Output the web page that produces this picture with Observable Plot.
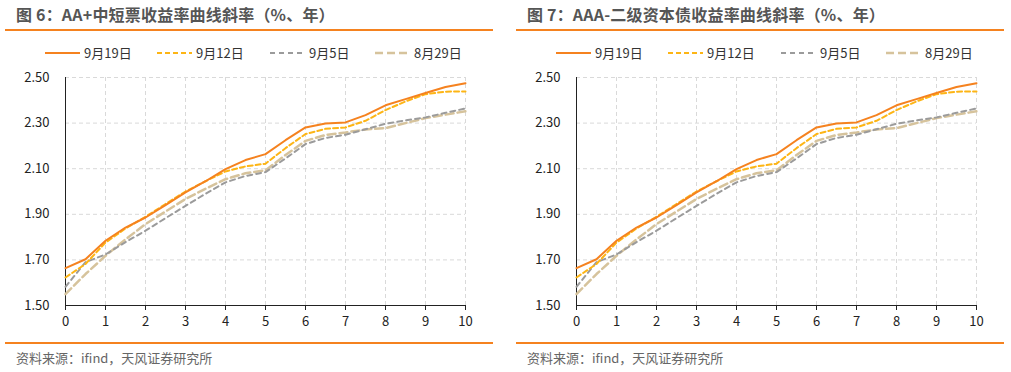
<!DOCTYPE html>
<html><head><meta charset="utf-8">
<script src="https://cdn.jsdelivr.net/npm/d3@7"></script>
<script src="https://cdn.jsdelivr.net/npm/@observablehq/plot@0.6"></script>
<style>
html,body{margin:0;padding:0;background:#fff;}
body{width:1011px;height:372px;position:relative;overflow:hidden;font-family:"Noto Sans CJK SC","Noto Sans",sans-serif;}
.panel{position:absolute;top:0;width:500px;height:372px;}
.title{position:absolute;left:16px;top:3px;font-size:16px;font-weight:bold;color:#555;line-height:22px;white-space:nowrap;letter-spacing:0.2px;}
.rule{position:absolute;left:5px;width:488px;height:2px;background:#F5821F;}
.legend{position:absolute;top:44px;left:0;width:500px;height:18px;font-size:13px;color:#333;}
.li{position:absolute;top:0;line-height:18px;white-space:nowrap;}
.li svg{position:absolute;left:0;top:0;}
.li span{position:absolute;left:39px;top:0;}
.plot{position:absolute;left:0;top:60px;}
.source{position:absolute;left:16px;top:349px;font-size:13px;color:#666;line-height:18px;white-space:nowrap;}
</style></head>
<body>
<script>
const xs = [0,0.5,1,1.5,2,2.5,3,3.5,4,4.5,5,5.5,6,6.5,7,7.5,8,8.5,9,9.5,10];
const s0919 = [1.664,1.703,1.784,1.842,1.886,1.940,1.996,2.045,2.098,2.138,2.164,2.225,2.281,2.298,2.303,2.335,2.378,2.405,2.432,2.458,2.475];
const s0912 = [1.623,1.682,1.776,1.838,1.889,1.945,2.000,2.045,2.088,2.110,2.122,2.190,2.252,2.275,2.281,2.310,2.357,2.395,2.427,2.438,2.439];
const s0905 = [1.582,1.690,1.724,1.778,1.828,1.883,1.937,1.990,2.040,2.068,2.085,2.145,2.208,2.235,2.249,2.273,2.297,2.312,2.325,2.345,2.364];
const s0829 = [1.550,1.638,1.718,1.790,1.857,1.912,1.967,2.012,2.054,2.080,2.093,2.160,2.222,2.248,2.259,2.272,2.278,2.300,2.322,2.337,2.352];
const seriesNames = ["9月19日","9月12日","9月5日","8月29日"];
const xTicks = [0,1,2,3,4,5,6,7,8,9,10];
const yTicks = [1.5,1.7,1.9,2.1,2.3,2.5];
const titles = ["图 6：AA+中短票收益率曲线斜率（%、年）","图 7：AAA-二级资本债收益率曲线斜率（%、年）"];
const sourceText = "资料来源：ifind，天风证券研究所";

const styles = [
  {color:"#F5821F", dash:null, width:2},
  {color:"#FDB515", dash:"5,3", width:2},
  {color:"#9B9B9B", dash:"5,4", width:2},
  {color:"#D6C39C", dash:"8,4", width:2.5}
];
const allSeries = [s0919,s0912,s0905,s0829];
const legendPos = [45,157,270,375];

function makePanel(idx, left){
  const p = document.createElement("div");
  p.className = "panel"; p.style.left = left+"px";
  const t = document.createElement("div"); t.className="title"; t.textContent = titles[idx]; p.appendChild(t);
  const r1 = document.createElement("div"); r1.className="rule"; r1.style.top="29px"; p.appendChild(r1);
  const lg = document.createElement("div"); lg.className="legend";
  seriesNames.forEach((n,i)=>{
    const li = document.createElement("div"); li.className="li"; li.style.left=legendPos[i]+"px";
    const st = styles[i];
    li.innerHTML = `<svg width="36" height="18"><line x1="0" x2="35" y1="9" y2="9" stroke="${st.color}" stroke-width="${st.width}" ${st.dash?`stroke-dasharray="${st.dash}"`:""}/></svg><span>${n}</span>`;
    lg.appendChild(li);
  });
  p.appendChild(lg);
  const data = [];
  allSeries.forEach((s,i)=>s.forEach((v,j)=>data.push({x:xs[j], y:v, k:i})));
  const marks = [
    Plot.gridX(xTicks,{stroke:"#d9d9d9", strokeOpacity:1, strokeDasharray:"4,3"}),
    Plot.gridY(yTicks,{stroke:"#d9d9d9", strokeOpacity:1, strokeDasharray:"4,3"}),
    Plot.ruleX([0],{stroke:"#222"}),
    Plot.ruleY([1.5],{stroke:"#222"}),
    Plot.axisX({ticks:xTicks, tickSize:5, tickPadding:6, tickFormat:d=>String(d), fontSize:13, color:"#222", label:null}),
    Plot.axisY({ticks:yTicks, tickSize:0, tickPadding:16, tickFormat:d=>d.toFixed(2), fontSize:13, color:"#222", label:null}),
  ];
  [3,2,1,0].forEach(i=>{
    const st = styles[i];
    marks.push(Plot.line(data.filter(d=>d.k===i),{x:"x",y:"y",stroke:st.color,strokeWidth:st.width,strokeDasharray:st.dash||undefined}));
  });
  const chart = Plot.plot({
    width:500, height:270,
    marginLeft:65, marginRight:35, marginTop:17, marginBottom:25,
    x:{domain:[0,10]}, y:{domain:[1.5,2.5]},
    style:{fontFamily:'"Noto Sans CJK SC","Noto Sans",sans-serif', fontSize:"13px", background:"transparent", color:"#222"},
    marks
  });
  const wrap = document.createElement("div"); wrap.className="plot"; wrap.appendChild(chart); p.appendChild(wrap);
  const r2 = document.createElement("div"); r2.className="rule"; r2.style.top="342px"; p.appendChild(r2);
  const src = document.createElement("div"); src.className="source"; src.textContent = sourceText; p.appendChild(src);
  document.body.appendChild(p);
}
makePanel(0,0);
makePanel(1,511);
</script>
</body></html>
